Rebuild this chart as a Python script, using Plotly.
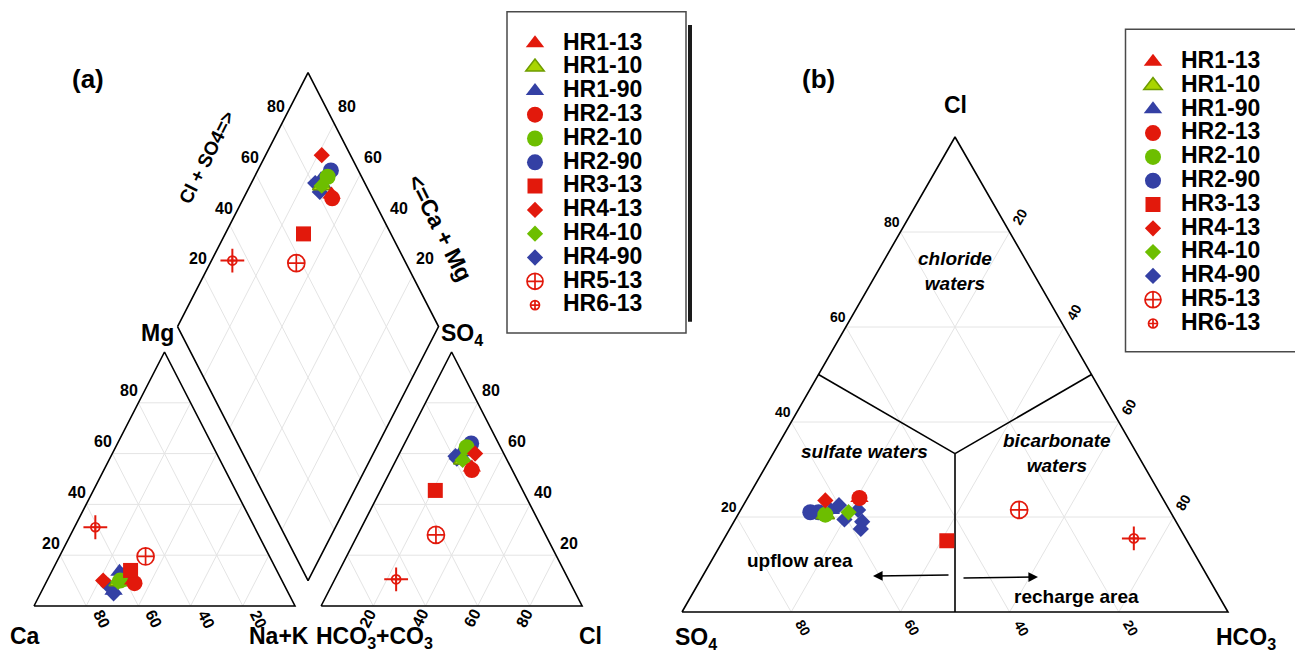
import math
import plotly.graph_objects as go

W, H = 1295, 652
FONT = "Liberation Sans, Arial, Helvetica, sans-serif"

# ---------------- data ----------------
series = ["HR1-13", "HR1-10", "HR1-90", "HR2-13", "HR2-10", "HR2-90",
          "HR3-13", "HR4-13", "HR4-10", "HR4-90", "HR5-13", "HR6-13"]
draw_order = ["HR1-90", "HR2-90", "HR4-90", "HR1-10", "HR2-10", "HR4-10",
              "HR1-13", "HR2-13", "HR3-13", "HR4-13", "HR5-13", "HR6-13"]

# Panel (a) Piper diagram, one row per sample (meq %)
a_sample = ["HR1-13", "HR1-10", "HR1-90", "HR1-90", "HR2-13", "HR2-10", "HR2-90",
            "HR3-13", "HR4-13", "HR4-10", "HR4-90", "HR4-90", "HR5-13", "HR6-13"]
a_ca   = [57.0, 63.0, 60.5, 66.5, 57.0, 62.0, 60.0, 56.0, 68.5, 63.0, 67.5, 67.0, 47.5, 61.0]
a_mg   = [10.0,  9.5, 13.5,  6.0,  9.0, 10.0, 12.0, 14.0, 10.0,  9.5,  8.0,  5.0, 19.5, 31.0]
a_nak  = [33.0, 27.5, 26.0, 27.5, 34.0, 28.0, 28.0, 30.0, 21.5, 27.5, 24.5, 28.0, 33.0,  8.0]
a_hco3 = [15.0, 17.0, 16.0, 16.5, 15.5, 13.0, 10.5, 33.5, 11.0, 17.0, 19.0, 19.0, 42.0, 66.0]
a_so4  = [54.5, 57.5, 60.5, 58.0, 53.5, 62.5, 64.0, 45.5, 60.0, 57.5, 58.0, 59.0, 28.0, 10.5]
a_cl   = [30.5, 25.5, 23.5, 25.5, 31.0, 24.5, 25.5, 21.0, 29.0, 25.5, 23.0, 22.0, 30.0, 23.5]

# Panel (b) anion ternary, one row per sample (%)
b_sample = ["HR1-13", "HR1-10", "HR1-90", "HR1-90", "HR2-13", "HR2-10", "HR2-90", "HR2-90",
            "HR3-13", "HR4-13", "HR4-10", "HR4-90", "HR4-90", "HR4-90", "HR4-90", "HR4-90",
            "HR5-13", "HR6-13"]
b_cl   = [24.0, 20.5, 21.5, 20.5, 24.0, 20.5, 21.0, 21.0, 15.0, 23.5, 21.0, 22.5, 19.5, 21.5, 19.0, 17.5, 21.5, 15.5]
b_so4  = [55.5, 63.5, 62.0, 64.0, 55.5, 63.5, 66.0, 64.5, 44.0, 62.0, 59.0, 60.0, 60.5, 57.0, 57.5, 58.5, 27.5,  9.5]
b_hco3 = [20.5, 16.0, 16.5, 15.5, 20.5, 16.0, 13.0, 14.5, 41.0, 14.5, 20.0, 17.5, 20.0, 21.5, 23.5, 24.0, 51.0, 75.0]

# water-type boundaries in panel (b): centre to edge points (Cl, SO4, HCO3)
bound_cl   = [100 / 3, 50, None, 100 / 3, 50, None, 100 / 3, 0]
bound_so4  = [100 / 3, 50, None, 100 / 3, 0, None, 100 / 3, 50]
bound_hco3 = [100 / 3, 0, None, 100 / 3, 50, None, 100 / 3, 50]

tick_vals = [20, 40, 60, 80]

# ---------------- styles ----------------
RED, GREEN, BLUE, LGREEN = "#E2190C", "#6DBE00", "#3440A4", "#A9D500"
s_color  = [RED, LGREEN, BLUE, RED, GREEN, BLUE, RED, RED, GREEN, BLUE, RED, RED]
s_symbol = ["triangle-up", "triangle-up", "triangle-up", "circle", "circle", "circle",
            "square", "diamond", "diamond", "diamond", "circle-cross-open", "circle-cross-open"]
s_size   = [16, 16, 16, 16, 16, 16, 15, 12.5, 12.5, 12.5, 17, 9]
s_lcolor = [RED, "#6E9C00", BLUE, RED, GREEN, BLUE, RED, RED, GREEN, BLUE, RED, RED]
s_lwidth = [0, 1.5, 0, 0, 0, 0, 0, 0, 0, 0, 1.7, 1.7]

# ---------------- geometry ----------------
G = 0.1
HT = math.sqrt(3) / 2
# pixel calibration of the two panels
A_X0, A_XS, A_Y0, A_YS = 34.0, 261.0, 606.0, 254.0 / HT
B_X0, B_XS, B_Y0, B_YS = 682.0, 546.0, 612.0, 475.0 / HT


def cation_xy(ca, mg, nak):
    t = ca + mg + nak
    return (nak + mg / 2) / t, mg / t * HT


def anion_xy(hco3, so4, cl):
    t = hco3 + so4 + cl
    return 1 + G + (cl + so4 / 2) / t, so4 / t * HT


def diamond_xy(nak_f, cs_f):
    return (nak_f + 1 + G + cs_f) / 2, HT * (1 + G + cs_f - nak_f)


def tern_b(cl, so4, hco3):
    t = cl + so4 + hco3
    return (hco3 + cl / 2) / t, cl / t * HT


def px(x, y):
    return x / W, 1 - y / H


fig = go.Figure()

# ---------- panel (a) grid ----------
gx, gy = [], []
for v in tick_vals:
    for p, q in [((100 - v, v, 0), (0, v, 100 - v)),
                 ((v, 100 - v, 0), (v, 0, 100 - v)),
                 ((100 - v, 0, v), (0, 100 - v, v))]:
        x1, y1 = cation_xy(*p)
        x2, y2 = cation_xy(*q)
        gx += [x1, x2, None]
        gy += [y1, y2, None]
        x1, y1 = anion_xy(*p)
        x2, y2 = anion_xy(*q)
        gx += [x1, x2, None]
        gy += [y1, y2, None]
    f = v / 100
    for p, q in [((0, f), (1, f)), ((f, 0), (f, 1))]:
        x1, y1 = diamond_xy(*p)
        x2, y2 = diamond_xy(*q)
        gx += [x1, x2, None]
        gy += [y1, y2, None]
fig.add_trace(go.Scatter(x=gx, y=gy, mode="lines", line=dict(color="#e4e4e4", width=1),
                         hoverinfo="skip", showlegend=False, xaxis="x", yaxis="y"))

ex, ey = [], []
for fn, verts in [(cation_xy, [(100, 0, 0), (0, 0, 100), (0, 100, 0), (100, 0, 0)]),
                  (anion_xy, [(100, 0, 0), (0, 0, 100), (0, 100, 0), (100, 0, 0)])]:
    for vv in verts:
        x, y = fn(*vv)
        ex.append(x)
        ey.append(y)
    ex.append(None)
    ey.append(None)
for vv in [(0, 0), (1, 0), (1, 1), (0, 1), (0, 0)]:
    x, y = diamond_xy(*vv)
    ex.append(x)
    ey.append(y)
fig.add_trace(go.Scatter(x=ex, y=ey, mode="lines", line=dict(color="black", width=1.6),
                         hoverinfo="skip", showlegend=False, xaxis="x", yaxis="y"))

# ---------- panel (b) grid ----------
gx, gy = [], []
for v in tick_vals:
    for p, q in [((v, 100 - v, 0), (v, 0, 100 - v)),
                 ((100 - v, v, 0), (0, v, 100 - v)),
                 ((100 - v, 0, v), (0, 100 - v, v))]:
        x1, y1 = tern_b(*p)
        x2, y2 = tern_b(*q)
        gx += [x1, x2, None]
        gy += [y1, y2, None]
fig.add_trace(go.Scatter(x=gx, y=gy, mode="lines", line=dict(color="#e4e4e4", width=1),
                         hoverinfo="skip", showlegend=False, xaxis="x2", yaxis="y2"))
ex, ey = [], []
for vv in [(0, 100, 0), (0, 0, 100), (100, 0, 0), (0, 100, 0)]:
    x, y = tern_b(*vv)
    ex.append(x)
    ey.append(y)
ex.append(None)
ey.append(None)
for c, s, h in zip(bound_cl, bound_so4, bound_hco3):
    if c is None:
        ex.append(None)
        ey.append(None)
    else:
        x, y = tern_b(c, s, h)
        ex.append(x)
        ey.append(y)
fig.add_trace(go.Scatter(x=ex, y=ey, mode="lines", line=dict(color="black", width=1.6),
                         hoverinfo="skip", showlegend=False, xaxis="x2", yaxis="y2"))


def leg_name(n):
    return '<span style="font-size:23px">' + n + "</span>"


# ---------- sample markers ----------
for name in draw_order:
    k = series.index(name)
    # panel (a)
    xs, ys = [], []
    for i, s in enumerate(a_sample):
        if s != name:
            continue
        x, y = cation_xy(a_ca[i], a_mg[i], a_nak[i])
        xs.append(x)
        ys.append(y)
        x, y = anion_xy(a_hco3[i], a_so4[i], a_cl[i])
        xs.append(x)
        ys.append(y)
        tc = a_ca[i] + a_mg[i] + a_nak[i]
        ta = a_hco3[i] + a_so4[i] + a_cl[i]
        x, y = diamond_xy(a_nak[i] / tc, (a_so4[i] + a_cl[i]) / ta)
        xs.append(x)
        ys.append(y)
    bxs, bys = [], []
    for i, s in enumerate(b_sample):
        if s != name:
            continue
        x, y = tern_b(b_cl[i], b_so4[i], b_hco3[i])
        bxs.append(x)
        bys.append(y)
    for axx, axy, X, Y, lg in [("x", "y", xs, ys, "legend"), ("x2", "y2", bxs, bys, "legend2")]:
        if name == "HR6-13":
            fig.add_trace(go.Scatter(x=X, y=Y, mode="markers", showlegend=False, hoverinfo="skip",
                                     marker=dict(symbol="cross-thin-open", size=17, color=RED,
                                                 line=dict(color=RED, width=2)),
                                     xaxis=axx, yaxis=axy))
        fig.add_trace(go.Scatter(
            x=X, y=Y, mode="markers", name=leg_name(name), legend=lg, legendrank=k + 1,
            marker=dict(symbol=s_symbol[k], size=s_size[k], color=s_color[k],
                        line=dict(color=s_lcolor[k], width=s_lwidth[k])),
            xaxis=axx, yaxis=axy))

# ---------- annotations ----------
ann = []


def txt(x, y, text, size, xref="paper", yref="paper", dx=0, dy=0, angle=0, italic=False):
    ann.append(dict(x=x, y=y, xref=xref, yref=yref, text=text, showarrow=False,
                    xshift=dx, yshift=-dy, textangle=angle, xanchor="center", yanchor="middle",
                    font=dict(family=FONT, size=size, color="black", weight="bold",
                              style="italic" if italic else "normal")))


for v in tick_vals:
    t = str(v)
    x, y = cation_xy(100 - v, v, 0)
    txt(x, y, t, 16, "x", "y", dx=-9, dy=-12)
    x, y = cation_xy(v, 0, 100 - v)
    txt(x, y, t, 16, "x", "y", dx=16, dy=13, angle=62.8)
    x, y = anion_xy(100 - v, 0, v)
    txt(x, y, t, 16, "x", "y", dx=-6, dy=12, angle=-62.8)
    x, y = anion_xy(0, v, 100 - v)
    txt(x, y, t, 16, "x", "y", dx=13, dy=-12)
    x, y = diamond_xy(0, v / 100)
    txt(x, y, t, 16, "x", "y", dx=-6, dy=-17)
    x, y = diamond_xy(1 - v / 100, 1)
    txt(x, y, t, 16, "x", "y", dx=12.5, dy=-17)
    # panel (b)
    x, y = tern_b(v, 100 - v, 0)
    txt(x, y, t, 14, "x2", "y2", dx=-8, dy=-10)
    x, y = tern_b(100 - v, 0, v)
    txt(x, y, t, 14, "x2", "y2", dx=10, dy=-15, angle=-60)
    x, y = tern_b(0, v, 100 - v)
    txt(x, y, t, 14, "x2", "y2", dx=12, dy=16, angle=60)

for (xx, yy, t, s, ang, it) in [
    (88, 79, "(a)", 26, 0, False),
    (157, 333, "Mg", 23, 0, False),
    (25, 636, "Ca", 23, 0, False),
    (279, 636, "Na+K", 23, 0, False),
    (374, 637, "HCO<sub>3</sub>+CO<sub>3</sub>", 23, 0, False),
    (590, 636, "Cl", 23, 0, False),
    (462, 334, "SO<sub>4</sub>", 23, 0, False),
    (207, 158, "Cl + SO4=&gt;", 19, -63.3, False),
    (440, 228, "&lt;=Ca + Mg", 23, 63.3, False),
    (818, 79, "(b)", 26, 0, False),
    (955, 105, "Cl", 23, 0, False),
    (696, 638, "SO<sub>4</sub>", 23, 0, False),
    (1246, 638, "HCO<sub>3</sub>", 23, 0, False),
    (955, 271, "chloride<br>waters", 19, 0, True),
    (864, 451, "sulfate waters", 19, 0, True),
    (1057, 453, "bicarbonate<br>waters", 19, 0, True),
    (800, 560, "upflow area", 19, 0, False),
    (1076, 596, "recharge area", 19, 0, False),
]:
    x, y = px(xx, yy)
    txt(x, y, t, s, angle=ang, italic=it)

# arrows upflow / recharge
for hx, hy, tx, ty in [(873, 576, 950, 575), (1038, 577, 962, 578)]:
    x, y = px(hx, hy)
    ann.append(dict(x=x, y=y, xref="paper", yref="paper", ax=tx - hx, ay=ty - hy,
                    text="", showarrow=True, arrowhead=2, arrowsize=1.2, arrowwidth=1.6,
                    arrowcolor="black", standoff=0, startstandoff=0))

# legend frames
shapes = [
    dict(type="rect", xref="paper", yref="paper", x0=507 / W, x1=686 / W, y0=1 - 333 / H, y1=1 - 11.7 / H,
         line=dict(color="#4a4a4a", width=1.5), fillcolor="rgba(0,0,0,0)"),
    dict(type="rect", xref="paper", yref="paper", x0=688 / W, x1=692 / W, y0=1 - 321.7 / H, y1=1 - 25 / H,
         line=dict(width=0), fillcolor="#1a1a1a"),
    dict(type="rect", xref="paper", yref="paper", x0=1125.5 / W, x1=1310 / W, y0=1 - 351.7 / H, y1=1 - 29.3 / H,
         line=dict(color="#4a4a4a", width=1.5), fillcolor="rgba(0,0,0,0)"),
]

leg_common = dict(bgcolor="rgba(0,0,0,0)", borderwidth=0,
                  font=dict(family=FONT, size=16, color="black", weight="bold"),
                  itemwidth=46, xanchor="left", yanchor="top", traceorder="normal",
                  itemclick=False, itemdoubleclick=False)

ax_common = dict(visible=False, showgrid=False, zeroline=False, fixedrange=True)
fig.update_layout(
    width=W, height=H, margin=dict(l=0, r=0, t=0, b=0),
    paper_bgcolor="white", plot_bgcolor="white",
    showlegend=True, hovermode=False,
    legend=dict(x=507 / W, y=1 - 26.4 / H, **leg_common),
    legend2=dict(x=1125 / W, y=1 - 44.8 / H, **leg_common),
    xaxis=dict(domain=[0, 650 / W], range=[(0 - A_X0) / A_XS, (650 - A_X0) / A_XS], anchor="y", **ax_common),
    yaxis=dict(domain=[0, 1], range=[(A_Y0 - H) / A_YS, A_Y0 / A_YS], anchor="x", **ax_common),
    xaxis2=dict(domain=[660 / W, 1], range=[(660 - B_X0) / B_XS, (W - B_X0) / B_XS], anchor="y2", **ax_common),
    yaxis2=dict(domain=[0, 1], range=[(B_Y0 - H) / B_YS, B_Y0 / B_YS], anchor="x2", **ax_common),
    annotations=ann, shapes=shapes,
)

fig.write_html("out.html")
